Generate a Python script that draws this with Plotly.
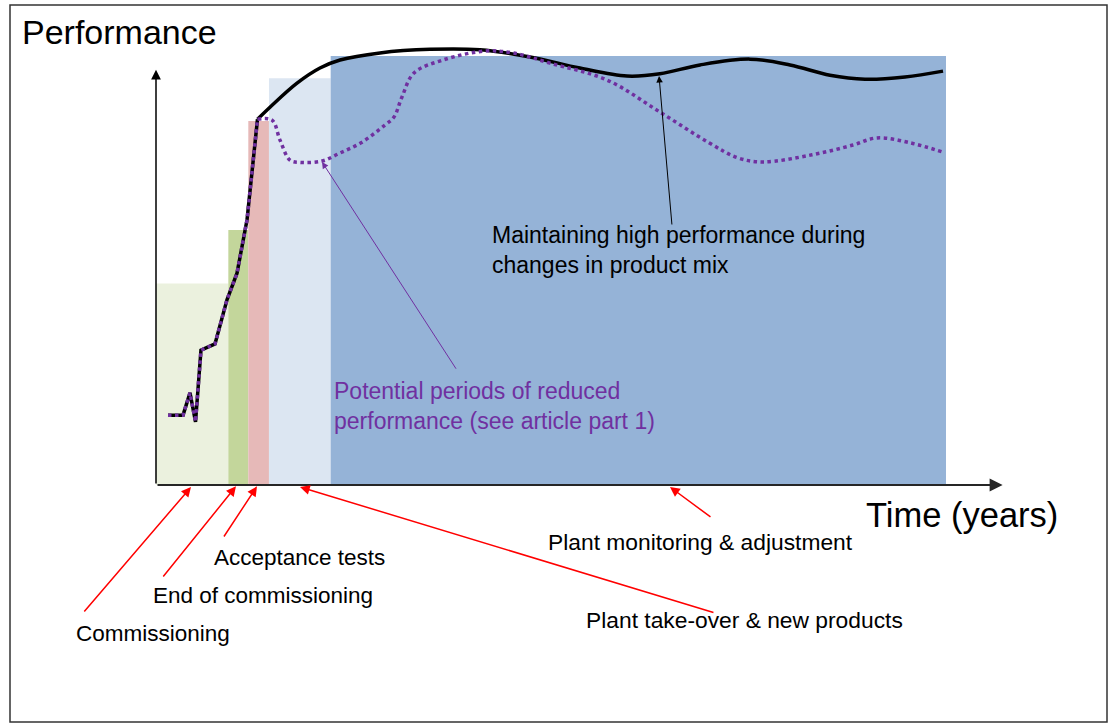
import plotly.graph_objects as go

# ---------------- data (time 0-100, performance 0-100, arbitrary units) ----------------
phase_names = ["Commissioning", "End of commissioning", "Acceptance tests",
               "Plant take-over & new products", "Plant monitoring & adjustment"]
phase_edges = [0.0, 8.51, 10.86, 13.29, 20.55, 92.94]
phase_heights = [45.3, 57.3, 81.8, 91.4, 96.4]

# commissioning ramp-up (shared by both curves)
rise_t = [1.41, 3.18, 4.0, 4.65, 5.29, 6.94, 8.35, 9.53, 10.71, 11.29, 11.94]
rise_p = [15.7, 15.7, 20.7, 14.2, 30.3, 31.7, 41.6, 47.6, 59.6, 70.1, 82.2]

# high performance maintained
black_t = [11.94, 13.41, 16.59, 19.29, 21.65, 26.35, 32.24, 38.12, 44.0, 49.88,
           55.41, 59.29, 64.0, 69.88, 74.59, 79.29, 83.41, 88.12, 92.59]
black_p = [82.2, 84.9, 90.3, 93.7, 95.5, 97.1, 97.9, 97.8, 96.2, 93.7,
           91.9, 92.4, 94.4, 95.7, 94.4, 92.1, 91.2, 91.7, 93.0]

# potential periods of reduced performance
purple_t = [11.94, 13.65, 14.59, 15.76, 16.94, 19.53, 21.65, 24.12, 26.94, 28.0,
            28.94, 30.35, 33.76, 38.59, 42.0, 46.35, 53.06, 59.29, 65.06, 68.47,
            71.41, 77.18, 82.0, 84.82, 88.71, 92.59]
purple_p = [82.2, 82.0, 77.5, 73.0, 72.5, 72.8, 74.6, 76.9, 80.9, 82.7,
            87.2, 92.6, 95.5, 97.5, 97.1, 94.8, 91.0, 83.8, 76.9, 73.5,
            72.6, 74.2, 76.4, 78.0, 76.9, 74.8]

# ---------------- styles / layout ----------------
phase_colors = ["#EBF1DE", "#C3D69B", "#E6B9B8", "#DCE6F2", "#95B3D7"]
FONT = "Arial, 'Liberation Sans', sans-serif"
PURPLE = "#7030A0"
RED = "#FF0000"
W, H = 1110, 724
# axis origin in the page and scale (px per unit)
ORIGIN_X, ORIGIN_Y, SX, SY = 156, 485, 8.5, 4.45
x_range = [-ORIGIN_X / SX, (W - ORIGIN_X) / SX]
y_range = [-(H - ORIGIN_Y) / SY, ORIGIN_Y / SY]

centers = [(a + b) / 2 for a, b in zip(phase_edges[:-1], phase_edges[1:])]
widths = [b - a for a, b in zip(phase_edges[:-1], phase_edges[1:])]

fig = go.Figure()
fig.add_trace(go.Bar(x=centers, y=phase_heights, width=widths, text=phase_names,
                     textposition="none",
                     marker=dict(color=phase_colors, line=dict(width=0)),
                     hoverinfo="text", showlegend=False))
fig.add_trace(go.Scatter(x=rise_t, y=rise_p, mode="lines",
                         line=dict(color="black", width=3.5), showlegend=False))
fig.add_trace(go.Scatter(x=black_t, y=black_p, mode="lines",
                         line=dict(color="black", width=3.5, shape="spline", smoothing=1.0),
                         showlegend=False))
fig.add_trace(go.Scatter(x=rise_t, y=rise_p, mode="lines",
                         line=dict(color=PURPLE, width=3.5, dash="dot"), showlegend=False))
fig.add_trace(go.Scatter(x=purple_t, y=purple_p, mode="lines",
                         line=dict(color=PURPLE, width=3.5, dash="dot", shape="spline", smoothing=1.0),
                         showlegend=False))

ann = []
# axes drawn as arrows
ann.append(dict(x=99.6, y=0, ax=0, ay=0, arrowcolor="#262626", arrowwidth=2))
ann.append(dict(x=0, y=93.3, ax=0, ay=0, arrowcolor="#000000", arrowwidth=1.5))
# red phase pointers (tip x,y ; tail ax,ay)
ann.append(dict(x=4.12, y=-0.45, ax=-8.59, ay=-28.76, arrowcolor=RED, arrowwidth=1.5))
ann.append(dict(x=9.41, y=-0.3, ax=0.71, ay=-20.9, arrowcolor=RED, arrowwidth=1.5))
ann.append(dict(x=11.88, y=-0.3, ax=7.88, ay=-11.91, arrowcolor=RED, arrowwidth=1.5))
ann.append(dict(x=16.94, y=-0.45, ax=65.76, ay=-28.76, arrowcolor=RED, arrowwidth=1.5))
ann.append(dict(x=60.47, y=-0.45, ax=65.41, ay=-7.42, arrowcolor=RED, arrowwidth=1.5))
# curve pointers
ann.append(dict(x=59.18, y=91.9, ax=60.71, ay=58.2, arrowcolor="#000000", arrowwidth=1))
ann.append(dict(x=19.53, y=72.6, ax=35.41, ay=25.8, arrowcolor=PURPLE, arrowwidth=1))
for a in ann:
    a.update(xref="x", yref="y", axref="x", ayref="y", text="", showarrow=True,
             arrowhead=2, arrowsize=1.3, standoff=0, startstandoff=0)

labels = [
    ("Performance", -16.0, 101.8, 34, "black"),
    ("Time (years)", 83.3, -6.74, 34.5, "black"),
    ("Maintaining high performance during<br>changes in product mix", 39.3, 52.7, 23, "black"),
    ("Potential periods of reduced<br>performance (see article part 1)", 20.7, 17.75, 23, PURPLE),
    ("Acceptance tests", 6.6, -16.18, 22.5, "black"),
    ("End of commissioning", -0.6, -24.72, 22.5, "black"),
    ("Commissioning", -9.65, -33.26, 22.5, "black"),
    ("Plant take-over &amp; new products", 50.35, -30.34, 22.8, "black"),
    ("Plant monitoring &amp; adjustment", 45.9, -12.81, 22.8, "black"),
]
for txt, x, y, size, col in labels:
    ann.append(dict(x=x, y=y, xref="x", yref="y", text=txt, showarrow=False,
                    xanchor="left", yanchor="middle", align="left",
                    font=dict(family=FONT, size=size, color=col)))

fig.update_layout(
    width=W, height=H,
    margin=dict(l=0, r=0, t=0, b=0, pad=0),
    paper_bgcolor="white", plot_bgcolor="white",
    xaxis=dict(range=x_range, visible=False, fixedrange=True),
    yaxis=dict(range=y_range, visible=False, fixedrange=True),
    annotations=ann,
    shapes=[dict(type="rect", xref="paper", yref="paper",
                 x0=10 / W, x1=1107 / W, y0=2 / H, y1=(H - 5) / H,
                 line=dict(color="#333333", width=1.5), fillcolor="rgba(0,0,0,0)")],
    font=dict(family=FONT),
    barmode="overlay",
)

fig.write_html("out.html")
